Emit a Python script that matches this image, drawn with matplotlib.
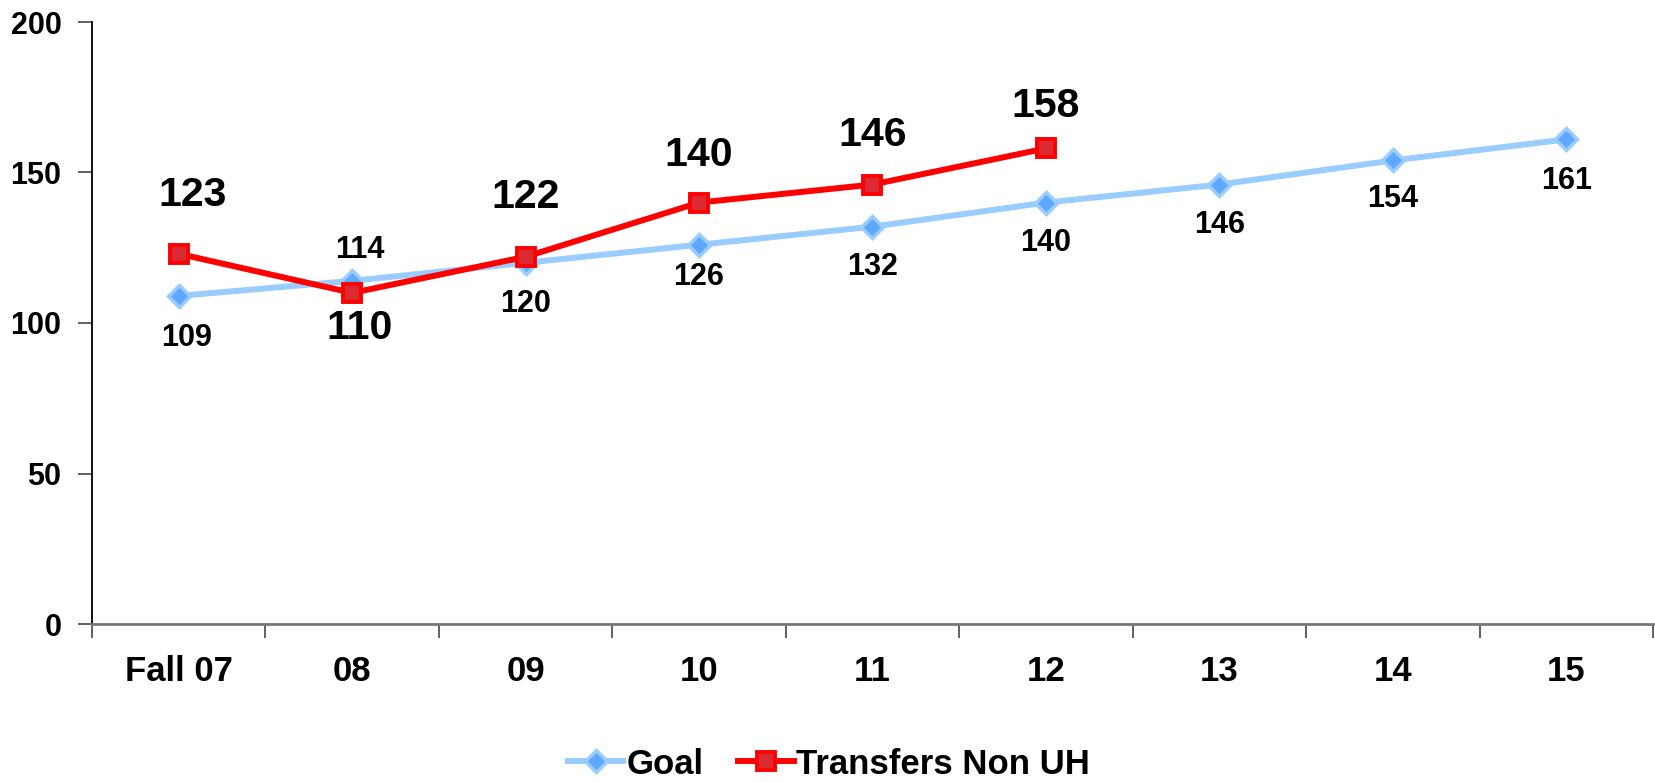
import matplotlib
matplotlib.use("Agg")
import matplotlib.pyplot as plt
from matplotlib.lines import Line2D

categories = ["Fall 07", "08", "09", "10", "11", "12", "13", "14", "15"]
goal = [109, 114, 120, 126, 132, 140, 146, 154, 161]
transfers = [123, 110, 122, 140, 146, 158]
y_ticks = [0, 50, 100, 150, 200]

# label offsets in pixels (dx, dy), positive dy = up
goal_off = [(8, -42), (8, 31), (0, -41), (0, -32), (0, -40), (0, -40), (0, -40), (0, -39), (0, -42)]
tr_off = [(14, 59), (7, -35), (0, 60), (0, 48), (0, 50), (0, 42)]

plt.rcParams['font.family'] = ['Liberation Sans', 'DejaVu Sans']
plt.rcParams['font.weight'] = 'bold'

W, H, DPI = 1656, 782, 100
fig = plt.figure(figsize=(W / DPI, H / DPI), dpi=DPI)
ax = fig.add_axes([92 / W, 1 - 624 / H, (1653 - 92) / W, (624 - 22) / H])

x = list(range(len(categories)))
goal_line_c = "#99CCFF"
goal_face = "#5FA8FF"
red = "#FF0000"
red_face = "#DC2A33"

ax.plot(x, goal, color=goal_line_c, lw=4.3, marker="D", ms=11,
        mfc=goal_face, mec=goal_line_c, mew=2.5, zorder=3, solid_capstyle="round")
ax.plot(x[:len(transfers)], transfers, color=red, lw=4.3, marker="s", ms=13.5,
        mfc=red_face, mec=red, mew=2.8, zorder=4)

px2pt = 72 / DPI
for xi, v, (dx, dy) in zip(x, goal, goal_off):
    ax.annotate(str(v), (xi, v), xytext=(dx * px2pt, dy * px2pt), textcoords="offset points",
                ha="center", va="center", fontsize=22, fontweight="bold", color="black", zorder=5)
for xi, v, (dx, dy) in zip(x, transfers, tr_off):
    ax.annotate(str(v), (xi, v), xytext=(dx * px2pt, dy * px2pt), textcoords="offset points",
                ha="center", va="center", fontsize=29.5, fontweight="bold", color="black", zorder=5)

ax.set_xlim(-0.5, len(categories) - 0.5)
ax.set_ylim(0, 200)
ax.set_yticks(y_ticks)
ax.set_yticklabels([str(t) for t in y_ticks], fontsize=22, fontweight="bold")
ax.set_xticks(x)
ax.set_xticklabels(categories, fontsize=25, fontweight="bold")
ax.set_xticks([i - 0.5 for i in range(len(categories) + 1)], minor=True)
ax.tick_params(axis="x", which="major", length=0, pad=22)
ax.tick_params(axis="x", which="minor", length=10, width=1.3, color="#555555", direction="out")
ax.tick_params(axis="y", length=10, width=1.3, direction="out", pad=12, color="#555555")

for s in ["top", "right"]:
    ax.spines[s].set_visible(False)
ax.spines["left"].set_color("black")
ax.spines["left"].set_linewidth(1.3)
ax.spines["bottom"].set_color("#777777")
ax.spines["bottom"].set_linewidth(2)

handles = [
    Line2D([], [], color=goal_line_c, lw=4.3, marker="D", ms=11, mfc=goal_face, mec=goal_line_c, mew=2.5),
    Line2D([], [], color=red, lw=4.3, marker="s", ms=13.5, mfc=red_face, mec=red, mew=2.8),
]
leg = fig.legend(handles, ["Goal", "Transfers Non UH"], loc="center", bbox_to_anchor=(829 / W, 1 - 764 / H),
                 ncol=2, frameon=False, prop={"size": 25, "weight": "bold"},
                 handlelength=1.6, handletextpad=0.08, columnspacing=1.0)

fig.savefig("out.png", dpi=DPI)
